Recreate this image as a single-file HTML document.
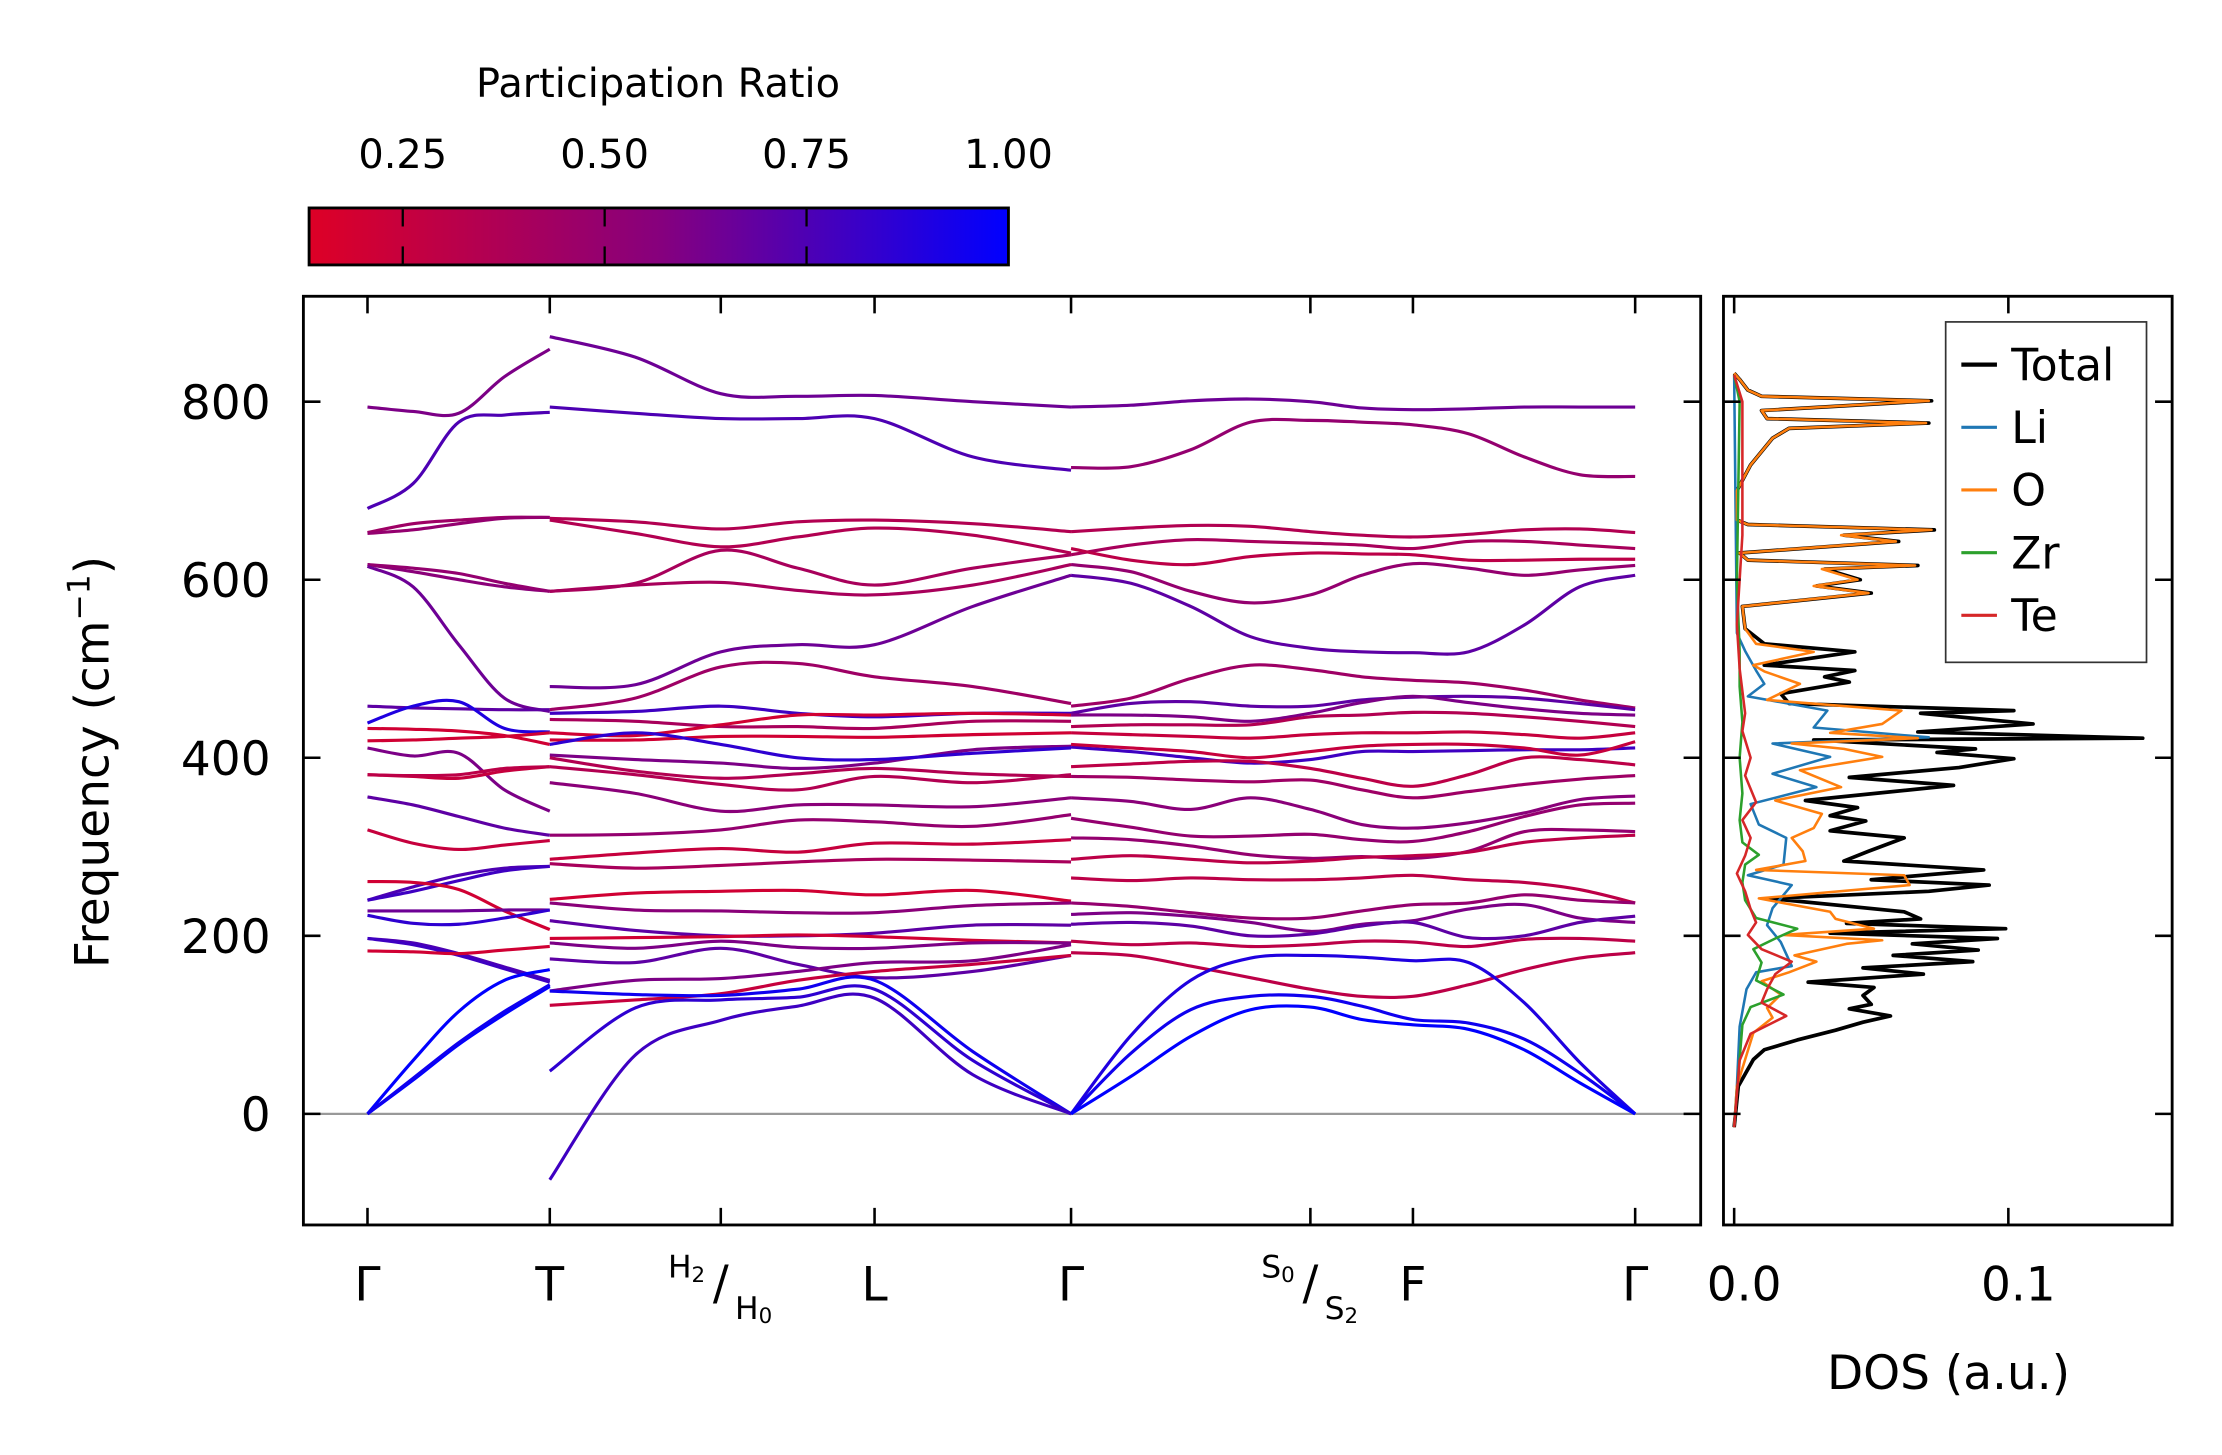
<!DOCTYPE html>
<html><head><meta charset="utf-8">
<style>
html,body{margin:0;padding:0;background:#fff;}
svg{display:block;font-family:"DejaVu Sans","Liberation Sans",sans-serif;}
</style></head>
<body>
<svg id="fig" width="2222" height="1455" viewBox="0 0 1560 1021.5" preserveAspectRatio="none" xmlns="http://www.w3.org/2000/svg">
<defs>
<linearGradient id="cmap" x1="0" x2="1" y1="0" y2="0">
<stop offset="0" stop-color="rgb(222,0,38)"/>
<stop offset="0.5" stop-color="rgb(135,0,125)"/>
<stop offset="1" stop-color="rgb(0,0,255)"/>
</linearGradient>
<clipPath id="mainClip"><rect x="213" y="208" width="981" height="652"/></clipPath>
<clipPath id="dosClip"><rect x="1210" y="208" width="315" height="652"/></clipPath>
</defs>
<g id="colorbar">
<text x="462" y="68" font-size="28" text-anchor="middle">Participation Ratio</text>
<rect x="217" y="146" width="491" height="40" fill="url(#cmap)" stroke="#000" stroke-width="2"/>
<g id="cbTicks"></g>
</g>
<g id="main">
<line x1="213" x2="1194" y1="782" y2="782" stroke="#999" stroke-width="1.6"/>
<g id="bands" clip-path="url(#mainClip)"></g>
<rect x="213" y="208" width="981" height="652" fill="none" stroke="#000" stroke-width="2"/>
<g id="mainTicks"></g>
<text transform="translate(76,535) rotate(-90)" font-size="33" text-anchor="middle">Frequency (cm<tspan font-size="22" dy="-13">−1</tspan><tspan dy="13">)</tspan></text>
</g>
<g id="dos">
<g id="dosLines" clip-path="url(#dosClip)"></g>
<rect x="1210" y="208" width="315" height="652" fill="none" stroke="#000" stroke-width="2"/>
<g id="dosTicks"></g>
<text x="1368" y="975" font-size="33" text-anchor="middle">DOS (a.u.)</text>
<g id="legend">
<rect x="1366" y="226" width="141" height="239" fill="#fff" stroke="#333" stroke-width="1.2"/>
</g>
</g>
</svg>
<script>
// ---------- data ----------
const cbTickValues = [0.25, 0.50, 0.75, 1.00];
const cbTickLabels = ["0.25", "0.50", "0.75", "1.00"];
const yTickValues = [0, 200, 400, 600, 800];
const kLabels = ["Γ", "T", "H2/H0", "L", "Γ", "S0/S2", "F", "Γ"];
const kLabelPos = [0, 0.1438, 0.2787, 0.4, 0.555, 0.7438, 0.8247, 1.0];
const path1K = [0, 0.036, 0.072, 0.108, 0.1438];
const path2K = [0.1438, 0.2112, 0.2787, 0.3393, 0.4, 0.4775, 0.555];
const path3K = [0.555, 0.6022, 0.6494, 0.6966, 0.7438, 0.7843, 0.8247, 0.8685, 0.9124, 0.9562, 1.0];
const path1Bands = [
[794,789,787,828,859],[680,708,777,785,788],[653,663,667,670,670],[652,656,663,669,670],
[617,609,600,592,587],[617,613,607,596,587],[615,592,527,467,452],[458,456,455,454,454],
[439,458,463,433,429],[433,432,430,425,415],[419,420,422,424,428],[411,402,405,364,340],
[381,379,377,385,390],[381,380,381,388,390],[356,347,334,321,313],[319,304,297,302,307],
[240,255,268,276,278],[240,250,262,273,278],[261,260,252,228,207],[228,228,228,229,229],
[223,214,213,220,229],[197,192,180,165,150],[197,190,178,163,148],[183,182,180,184,188],
[0,60,115,150,162],[0,38,78,112,143],[0,40,80,115,145]];
const path1Ratio = [0.6,0.75,0.45,0.5,0.55,0.5,0.65,0.7,0.9,0.2,0.2,0.6,0.25,0.3,0.7,0.25,0.75,0.8,0.2,0.65,0.85,0.75,0.8,0.2,1.0,1.0,0.95];
const path2Bands = [
[873,850,809,806,807,800,794],[794,787,781,781,781,738,723],[669,665,657,665,667,663,654],
[667,652,637,648,658,650,630],[587,596,633,613,594,613,628],[587,594,597,588,583,594,617],
[480,482,519,527,527,570,605],[454,467,502,506,491,480,461],[450,452,458,450,446,450,450],
[443,441,435,435,433,441,441],[428,425,437,448,448,450,448],[420,420,424,424,423,426,428],
[403,398,394,388,394,409,413],[400,385,377,382,388,382,379],[390,381,370,364,379,372,381],
[415,428,415,400,398,405,411],[372,360,340,347,347,345,355],[313,314,319,330,328,323,336],
[286,293,298,294,304,303,308],[281,276,279,283,286,285,283],[241,248,250,251,246,251,239],
[237,229,228,226,226,234,237],[217,206,200,200,203,212,212],[197,198,199,201,199,195,192],
[192,186,194,187,186,192,192],[174,170,186,168,153,160,178],[138,150,152,160,170,172,190],
[122,128,135,150,160,168,178],[138,134,133,140,150,70,0],[48,119,128,131,140,60,0],
[-74,66,105,121,130,44,0]];
const path2Ratio = [0.65,0.75,0.35,0.35,0.4,0.4,0.65,0.45,0.8,0.4,0.2,0.2,0.6,0.35,0.35,0.85,0.55,0.5,0.25,0.4,0.2,0.55,0.7,0.2,0.6,0.7,0.6,0.25,0.95,0.85,0.8];
const path3Bands = [
[794,796,801,803,800,793,791,792,794,794,794],[726,727,746,777,779,777,774,764,738,718,716],
[654,658,661,660,654,650,648,651,656,657,653],[628,639,645,643,641,639,635,643,643,639,635],
[635,622,617,626,630,629,628,622,622,623,623],[617,609,587,574,583,605,618,613,605,611,616],
[605,596,570,536,523,519,518,519,549,592,605],[458,467,489,504,499,491,487,484,476,465,456],
[450,461,463,458,458,465,468,469,467,461,454],[448,448,446,441,450,462,469,462,455,450,448],
[435,437,437,437,446,448,451,450,446,441,435],[428,426,424,422,426,428,428,429,426,422,428],
[412,407,400,394,398,407,407,408,409,409,411],[415,411,407,400,407,413,415,415,411,403,418],
[390,393,396,396,388,377,368,381,400,398,392],[379,378,375,373,375,364,355,362,370,376,380],
[355,351,342,355,342,325,321,327,338,353,357],[332,322,312,312,314,308,306,317,334,347,349],
[310,308,301,291,287,289,287,295,317,319,317],[286,290,286,282,284,288,290,294,305,310,313],
[265,262,265,263,263,265,268,263,260,252,237],[237,233,226,220,220,228,235,237,246,240,237],
[224,226,222,215,205,213,217,230,235,220,215],[213,215,211,200,202,211,215,198,200,215,222],
[194,190,192,188,190,194,193,188,196,197,194],[181,178,166,153,140,132,132,145,162,175,181],
[0,88,150,175,178,176,172,170,125,58,0],[0,68,117,132,132,121,106,102,84,46,0],
[0,42,87,117,120,106,100,95,72,35,0]];
const path3Ratio = [0.65,0.5,0.35,0.4,0.3,0.5,0.7,0.45,0.7,0.6,0.35,0.25,0.8,0.25,0.3,0.45,0.55,0.5,0.5,0.3,0.3,0.5,0.6,0.7,0.3,0.3,0.9,0.95,1.0];

const totalFreq = [-15,0,31,61,72,83,94,103,110,118,123,133,142,148,157,164,171,178,184,191,197,203,208,214,219,227,242,250,257,263,274,284,295,310,318,329,335,344,352,369,378,389,399,406,410,420,422,429,438,450,453,461,472,485,491,498,504,519,528,545,570,585,593,600,612,616,622,630,643,650,656,662,667,700,729,759,770,776,781,790,801,806,813,825,832];
const totalDos = [0,0.0005,0.0015,0.007,0.011,0.023,0.037,0.047,0.057,0.042,0.050,0.047,0.051,0.027,0.069,0.047,0.087,0.058,0.089,0.065,0.096,0.035,0.099,0.041,0.068,0.062,0.013,0.071,0.093,0.050,0.091,0.040,0.049,0.062,0.035,0.048,0.035,0.045,0.026,0.080,0.042,0.082,0.102,0.074,0.088,0.029,0.149,0.067,0.109,0.068,0.102,0.020,0.017,0.042,0.033,0.044,0.011,0.044,0.011,0.004,0.003,0.05,0.03,0.046,0.033,0.067,0.005,0.002,0.06,0.04,0.073,0.005,0.001,0.001,0.006,0.014,0.02,0.071,0.012,0.01,0.072,0.01,0.005,0.002,0];
const oFreq = [-15,31,91,108,119,134,149,159,171,178,191,195,201,208,219,227,242,257,268,274,284,295,310,321,337,352,367,386,401,410,416,422,428,438,453,465,483,497,504,519,528,545,570,585,593,600,612,616,622,630,643,650,656,662,667,700,729,759,770,776,781,790,801,806,813,825,832];
const oDos = [0,0.001,0.007,0.014,0.012,0.017,0.010,0.020,0.030,0.022,0.041,0.054,0.018,0.051,0.037,0.035,0.009,0.064,0.062,0.008,0.026,0.025,0.021,0.029,0.032,0.015,0.039,0.024,0.054,0.040,0.021,0.067,0.035,0.054,0.061,0.012,0.024,0.011,0.007,0.029,0.008,0.004,0.003,0.049,0.029,0.045,0.032,0.066,0.005,0.002,0.059,0.039,0.072,0.005,0.001,0.001,0.006,0.014,0.02,0.07,0.012,0.01,0.071,0.01,0.005,0.002,0];
const liFreq = [-15,31,98,140,159,166,193,212,231,257,268,280,310,325,348,367,382,401,416,423,434,453,469,483,498,520,540,830];
const liDos = [0,0.001,0.002,0.0045,0.008,0.021,0.017,0.012,0.014,0.021,0.005,0.018,0.019,0.009,0.006,0.030,0.014,0.035,0.014,0.071,0.029,0.034,0.005,0.011,0.008,0.004,0.001,0];
const zrFreq = [-15,100,120,134,150,170,185,197,208,220,240,260,280,291,305,330,360,400,440,480,520,600,800,830];
const zrDos = [0,0.003,0.006,0.018,0.008,0.010,0.007,0.015,0.023,0.008,0.004,0.003,0.004,0.009,0.003,0.002,0.003,0.002,0.003,0.002,0.002,0.001,0.002,0];
const teFreq = [-15,60,90,110,125,140,157,171,185,201,215,230,250,270,290,310,330,350,380,400,430,450,500,550,650,800,830];
const teDos = [0,0.002,0.006,0.019,0.010,0.012,0.015,0.021,0.010,0.005,0.008,0.006,0.004,0.001,0.004,0.006,0.003,0.008,0.004,0.006,0.003,0.004,0.002,0.001,0.003,0.003,0];
const dosTickValues = [0.0, 0.1];
const dosTickLabels = ["0.0", "0.1"];
const legendLabels = ["Total", "Li", "O", "Zr", "Te"];
const legendColors = ["#000000", "#1f77b4", "#ff7f0e", "#2ca02c", "#d62728"];

// ---------- scales ----------
const NS = "http://www.w3.org/2000/svg";
const yF = f => 782 - f * 0.625;
const xK = k => 258 + k * 890;
const xD = v => 1217.5 + v * 1925;
const cbX = r => 217 + (r - 0.134) / (1 - 0.134) * 491;
function mk(tag, attrs, parent) {
  const e = document.createElementNS(NS, tag);
  for (const a in attrs) e.setAttribute(a, attrs[a]);
  parent.appendChild(e);
  return e;
}
function cmap(r) {
  const t = Math.max(0, Math.min(1, (r - 0.134) / (1 - 0.134)));
  let c;
  if (t < 0.5) { const u = t / 0.5; c = [222 + (135 - 222) * u, 0, 38 + (125 - 38) * u]; }
  else { const u = (t - 0.5) / 0.5; c = [135 * (1 - u), 0, 125 + 130 * u]; }
  return `rgb(${c[0] | 0},${c[1] | 0},${c[2] | 0})`;
}
function smoothPath(xs, ys) {
  let d = `M${xs[0].toFixed(2)},${ys[0].toFixed(2)}`;
  for (let i = 0; i < xs.length - 1; i++) {
    const x0 = xs[Math.max(0, i - 1)], y0 = ys[Math.max(0, i - 1)];
    const x1 = xs[i], y1 = ys[i], x2 = xs[i + 1], y2 = ys[i + 1];
    const x3 = xs[Math.min(xs.length - 1, i + 2)], y3 = ys[Math.min(xs.length - 1, i + 2)];
    const c1x = x1 + (x2 - x0) / 6, c1y = y1 + (y2 - y0) / 6;
    const c2x = x2 - (x3 - x1) / 6, c2y = y2 - (y3 - y1) / 6;
    d += ` C${c1x.toFixed(2)},${c1y.toFixed(2)} ${c2x.toFixed(2)},${c2y.toFixed(2)} ${x2.toFixed(2)},${y2.toFixed(2)}`;
  }
  return d;
}

// ---------- colorbar ticks ----------
const cbG = document.getElementById("cbTicks");
cbTickValues.forEach((v, i) => {
  const x = cbX(v);
  if (v < 1) {
    const t1 = mk("line", {x1: x, x2: x, y1: 146, y2: 159, stroke: "#000", "stroke-width": 1.6}, cbG);
    
    
    const t2 = mk("line", {x1: x, x2: x, y1: 173, y2: 186, stroke: "#000", "stroke-width": 1.6}, cbG);
    
    
  }
  const tx = mk("text", {x: x, y: 118, "font-size": 28, "text-anchor": "middle"}, cbG);
  tx.textContent = cbTickLabels[i];
  
  
});

// ---------- bands ----------
const bandsG = document.getElementById("bands");
function drawBands(kArr, bands, ratios, seg) {
  bands.forEach((b, i) => {
    const xs = kArr.map(xK), ys = b.map(yF);
    const p = mk("path", {d: smoothPath(xs, ys), fill: "none", stroke: cmap(ratios[i]), "stroke-width": 2.2, "stroke-linecap": "butt"}, bandsG);
    
    
  });
}
drawBands(path1K, path1Bands, path1Ratio, "gamma-t");
drawBands(path2K, path2Bands, path2Ratio, "t-gamma");
drawBands(path3K, path3Bands, path3Ratio, "gamma-gamma");

// ---------- main ticks ----------
const mtG = document.getElementById("mainTicks");
yTickValues.forEach(v => {
  const y = yF(v);
  const a = mk("line", {x1: 213, x2: 225, y1: y, y2: y, stroke: "#000", "stroke-width": 1.8}, mtG);
  
  
  const b = mk("line", {x1: 1182, x2: 1194, y1: y, y2: y, stroke: "#000", "stroke-width": 1.8}, mtG);
  
  
  const t = mk("text", {x: 190, y: y + 12, "font-size": 33, "text-anchor": "end"}, mtG);
  t.textContent = String(v);
  
  
});
kLabelPos.forEach((k, i) => {
  const x = xK(k);
  const a = mk("line", {x1: x, x2: x, y1: 848, y2: 860, stroke: "#000", "stroke-width": 1.8}, mtG);
  
  
  const b = mk("line", {x1: x, x2: x, y1: 208, y2: 220, stroke: "#000", "stroke-width": 1.8}, mtG);
  
  
  const lab = kLabels[i];
  if (lab.indexOf("/") < 0) {
    const t = mk("text", {x: x, y: 913, "font-size": 33, "text-anchor": "middle"}, mtG);
    t.textContent = lab;
    
    
  } else {
    const parts = lab.split("/");
    const t1 = mk("text", {x: x - 11, y: 897, "font-size": 22, "text-anchor": "end"}, mtG);
    
    
    t1.appendChild(document.createTextNode(parts[0][0]));
    const s1 = mk("tspan", {"font-size": 15, dy: 3}, t1); s1.textContent = parts[0].slice(1);
    const sl = mk("text", {x: x, y: 912, "font-size": 33, "text-anchor": "middle"}, mtG);
    sl.textContent = "/";
    
    
    const t2 = mk("text", {x: x + 10, y: 926, "font-size": 22, "text-anchor": "start"}, mtG);
    
    
    t2.appendChild(document.createTextNode(parts[1][0]));
    const s2 = mk("tspan", {"font-size": 15, dy: 3}, t2); s2.textContent = parts[1].slice(1);
  }
});

// ---------- DOS ----------
const dosG = document.getElementById("dosLines");
function drawDos(freq, vals, color, w, name) {
  const pts = freq.map((f, i) => xD(vals[i]).toFixed(2) + "," + yF(f).toFixed(2)).join(" ");
  const pl = mk("polyline", {points: pts, fill: "none", stroke: color, "stroke-width": w, "stroke-linejoin": "round"}, dosG);
  
  
}
drawDos(totalFreq, totalDos, "#000", 2.6, "dos-total-line");
drawDos(liFreq, liDos, "#1f77b4", 1.8, "dos-li-line");
drawDos(oFreq, oDos, "#ff7f0e", 1.8, "dos-o-line");
drawDos(zrFreq, zrDos, "#2ca02c", 1.8, "dos-zr-line");
drawDos(teFreq, teDos, "#d62728", 1.8, "dos-te-line");

const dtG = document.getElementById("dosTicks");
yTickValues.forEach(v => {
  const y = yF(v);
  const a = mk("line", {x1: 1210, x2: 1222, y1: y, y2: y, stroke: "#000", "stroke-width": 1.8}, dtG);
  
  
  const b = mk("line", {x1: 1513, x2: 1525, y1: y, y2: y, stroke: "#000", "stroke-width": 1.8}, dtG);
  
  
});
dosTickValues.forEach((v, i) => {
  const x = xD(v);
  const a = mk("line", {x1: x, x2: x, y1: 848, y2: 860, stroke: "#000", "stroke-width": 1.8}, dtG);
  
  
  const b = mk("line", {x1: x, x2: x, y1: 208, y2: 220, stroke: "#000", "stroke-width": 1.8}, dtG);
  
  
  const t = mk("text", {x: x + 7, y: 913, "font-size": 33, "text-anchor": "middle"}, dtG);
  t.textContent = dosTickLabels[i];
  
  
});

// ---------- legend ----------
const lg = document.getElementById("legend");
legendLabels.forEach((lab, i) => {
  const y = 256 + i * 44;
  const l = mk("line", {x1: 1377, x2: 1402, y1: y, y2: y, stroke: legendColors[i], "stroke-width": i === 0 ? 3 : 2.2}, lg);
  
  
  const t = mk("text", {x: 1412, y: y + 11, "font-size": 31}, lg);
  t.textContent = lab;
  
  
});
</script>
</body></html>
